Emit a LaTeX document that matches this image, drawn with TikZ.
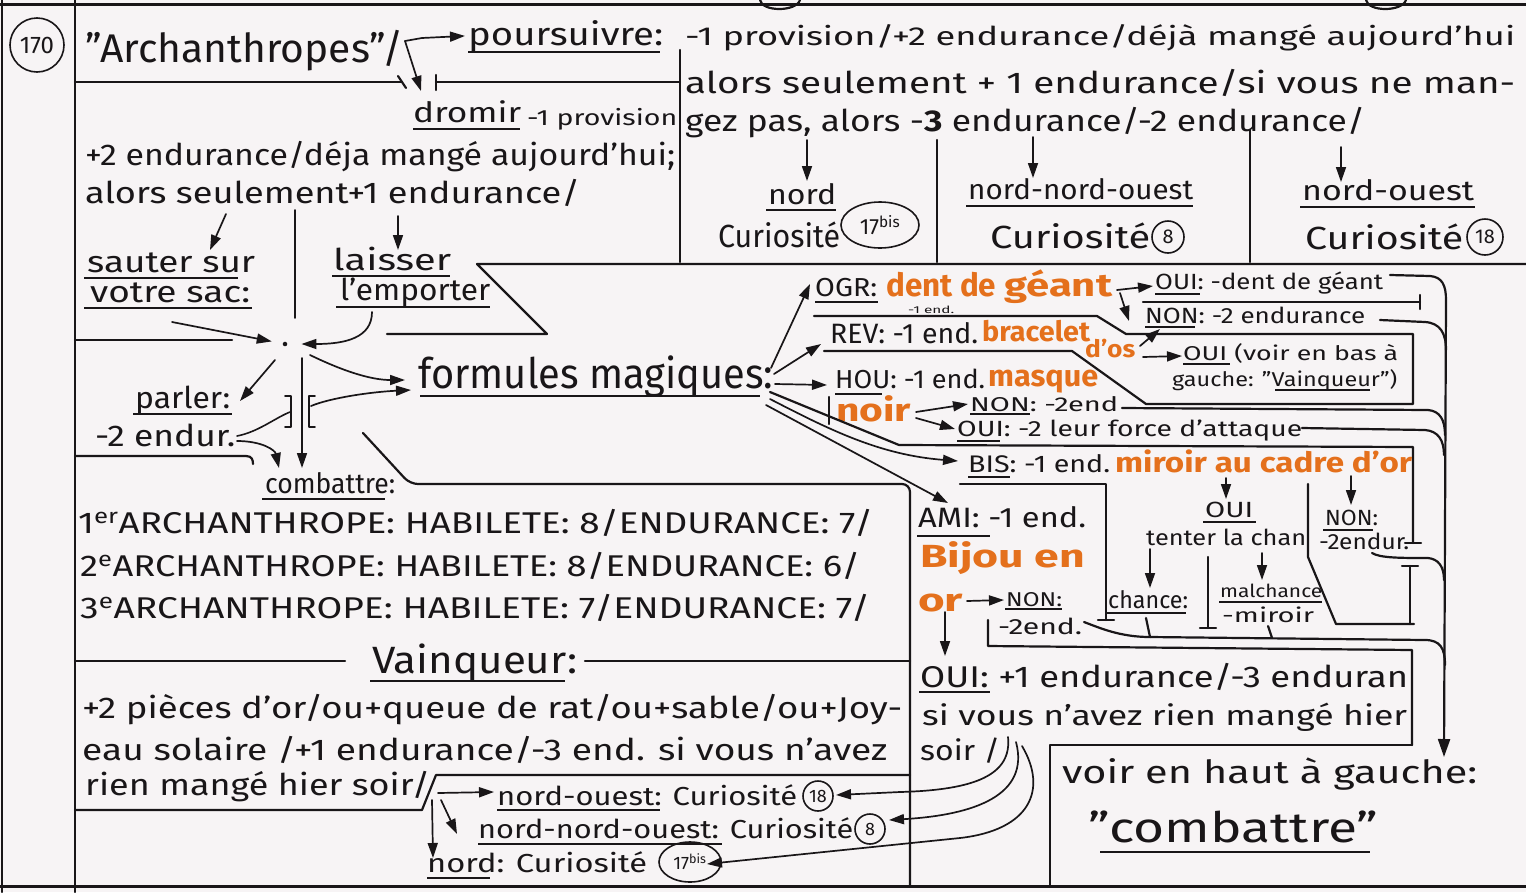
\documentclass[tikz,border=0pt]{standalone}
\usepackage{fontspec}
\setmainfont{Fira Sans}
\usepackage{graphicx}
\usetikzlibrary{arrows.meta,shapes.geometric}
\definecolor{paper}{RGB}{247,244,245}
\definecolor{ink}{RGB}{25,22,24}
\definecolor{orangeink}{RGB}{228,112,28}
% text stretched horizontally to a given width, natural height kept
\newcommand{\hw}[2]{\resizebox{#1pt}{\height}{#2}}
\newcommand{\fs}[1]{\fontsize{#1}{#1}\selectfont}
\tikzset{
  txt/.style={inner sep=0pt, anchor=base west, text=ink},
  orng/.style={inner sep=0pt, anchor=base west, text=orangeink},
  hand/.style={draw=ink, line width=2.2pt, line cap=round, line join=round},
  thin/.style={draw=ink, line width=1.6pt, line cap=round, line join=round},
  arr/.style={draw=ink, line width=1.7pt, line cap=round, -{Triangle[length=15pt,width=10pt]}},
  ul/.style={draw=ink, line width=1.8pt},
  num/.style={circle, draw=ink, line width=1.6pt, inner sep=1pt, text=ink},
  numb/.style={ellipse, draw=ink, line width=1.6pt, inner sep=0pt, text=ink},
}
\begin{document}
\begin{tikzpicture}[x=1pt,y=-1pt]
\fill[paper] (0,0) rectangle (1526,892);
\useasboundingbox (0,0) rectangle (1526,892);

% ---------- page frame ----------
\draw[hand] (2,0)--(2,892);
\draw[hand] (75,0)--(75,892);
\draw[hand, line width=3pt] (0,4)--(1526,4);
\draw[hand, line width=3pt] (0,886)--(1526,886);
\draw[hand] (760,0) .. controls (762,12) and (796,12) .. (800,0);
\draw[hand] (1366,0) .. controls (1368,12) and (1402,12) .. (1406,0);

% ---------- header ----------
\node[num, minimum size=54pt, font=\fs{24}] (n170) at (37,45) {170};
\node[txt, font=\fs{40}] (title) at (85,62) {\hw{318}{"Archanthropes"/}};
\node[txt, font=\fs{32}] (pours) at (468,45) {\hw{195}{poursuivre:}};
\draw[ul] (468,52)--(660,52);
\coordinate (split) at (405,41);
\coordinate (dromtip) at (421,91);
\draw[arr] (split) -- (422,38) -- ([xshift=-3pt]pours.west);
\draw[arr] (split) -- (dromtip);

\draw[hand] (75,82)--(402,82);
\draw[hand] (398,76)--(406,88);
\draw[hand] (436,75)--(436,90);
\draw[hand] (436,82)--(680,82);

\node[txt, font=\fs{26}] (r1) at (685,45) {\hw{830}{-1 provision/+2 endurance/déjà mangé aujourd'hui}};
\node[txt, font=\fs{30}] (r2) at (685,93) {\hw{830}{alors seulement + 1 endurance/si vous ne man-}};
\node[txt, font=\fs{30}] (r3) at (685,131) {\hw{680}{gez pas, alors -\textbf{3} endurance/-2 endurance/}};

% ---------- upper right destinations ----------
\draw[hand] (680,50)--(680,262);
\draw[hand] (937,140)--(937,262);
\draw[hand] (1250,130)--(1250,262);
\node[txt, font=\fs{28}] (nord1) at (768,204) {\hw{68}{nord}};
\draw[ul] (766,210)--(836,210);
\node[txt, font=\fs{32}] (cur1) at (718,247) {\hw{122}{Curiosité}};
\node[numb, minimum width=78pt, minimum height=46pt, font=\fs{22}] (c17a) at (880,225) {17\textsuperscript{bis}};
\node[txt, font=\fs{28}] (nno1) at (968,199) {\hw{225}{nord-nord-ouest}};
\draw[ul] (966,206)--(1193,206);
\node[txt, font=\fs{32}] (cur2) at (990,248) {\hw{160}{Curiosité}};
\node[num, minimum size=32pt, font=\fs{20}] (c8a) at (1168,237) {8};
\node[txt, font=\fs{28}] (no1) at (1302,200) {\hw{172}{nord-ouest}};
\draw[ul] (1300,207)--(1475,207);
\node[txt, font=\fs{32}] (cur3) at (1305,249) {\hw{158}{Curiosité}};
\node[num, minimum size=36pt, font=\fs{20}] (c18a) at (1485,237) {18};
\draw[arr] (807,140) -- (807,181);
\draw[arr] (1033,137) -- (1033,178);
\draw[arr] (1341,147) -- (1341,182);

% ---------- dormir / left block ----------
\node[txt, font=\fs{28}] (drom) at (413,122) {\hw{108}{dromir}};
\draw[ul] (413,129)--(520,129);
\node[txt, font=\fs{22}] (drom2) at (527,125) {\hw{150}{-1 provision}};
\node[txt, font=\fs{30}] (l1) at (85,165) {\hw{590}{+2 endurance/déja mangé aujourd'hui;}};
\node[txt, font=\fs{30}] (l2) at (85,203) {\hw{495}{alors seulement+1 endurance/}};

\node[txt, font=\fs{30}] (saut1) at (87,272) {\hw{168}{sauter sur}};
\draw[ul] (84,278)--(238,278);
\node[txt, font=\fs{30}] (saut2) at (90,302) {\hw{160}{votre sac:}};
\draw[ul] (84,308)--(252,308);
\node[txt, font=\fs{30}] (lais1) at (333,270) {\hw{118}{laisser}};
\draw[ul] (332,276)--(450,276);
\node[txt, font=\fs{30}] (lais2) at (340,300) {\hw{150}{l'emporter}};
\draw[ul] (336,307)--(490,307);
\node[txt, font=\fs{30}] (parl) at (135,408) {\hw{95}{parler:}};
\draw[ul] (133,414)--(232,414);
\node[txt, font=\fs{30}] (endur) at (95,446) {\hw{140}{-2 endur.}};
\node[txt, font=\fs{28}] (comb) at (265,493) {\hw{130}{combattre:}};
\draw[ul] (262,499)--(385,499);
\node[txt, font=\fs{42}] (form) at (418,388) {\hw{355}{formules magiques:}};
\draw[ul] (420,396)--(760,396);

\draw[hand] (75,340)--(232,340);
\draw[hand] (75,456)--(246,456) .. controls (252,456) and (253,460) .. (253,464);
\draw[hand] (387,334)--(547,334)--(477,264)--(1526,264);
\draw[hand, rounded corners=8pt] (363,433)--(410,484)--(910,484)--(910,886);

\node[circle, fill=ink, inner sep=1.6pt] (dot) at (285,344) {};
\draw[arr] (226,214) -- (210,250);
\draw[arr] (398,216) -- (398,250);
\draw[thin] (295,210) -- (295,318);
\draw[arr, shorten >=11pt] (172,322) -- (dot);
\draw[arr] (372,312) .. controls (372,338) and (345,344) .. ([xshift=14pt]dot.east);
\draw[arr] (310,355) .. controls (345,372) and (372,380) .. (405,380);
\draw[arr] (275,360) -- (240,401);
\draw[arr] (302,358) -- (302,468);
\draw[thin] (237,436) .. controls (258,432) and (275,418) .. (290,412);
\draw[thin] (285,396)--(291,396)--(291,427)--(285,427);
\draw[thin] (315,396)--(309,396)--(309,427)--(315,427);
\draw[arr] (311,406) .. controls (330,398) and (370,392) .. (411,390);
\draw[arr] (237,441) .. controls (262,441) and (275,450) .. (279,468);

% ---------- combat ----------
\node[txt, font=\fs{30}] (a1) at (78,533) {\hw{795}{1\textsuperscript{er}ARCHANTHROPE: HABILETE: 8/ENDURANCE: 7/}};
\node[txt, font=\fs{30}] (a2) at (80,576) {\hw{780}{2\textsuperscript{e}ARCHANTHROPE: HABILETE: 8/ENDURANCE: 6/}};
\node[txt, font=\fs{30}] (a3) at (80,618) {\hw{790}{3\textsuperscript{e}ARCHANTHROPE: HABILETE: 7/ENDURANCE: 7/}};

% ---------- Vainqueur ----------
\draw[hand] (75,661)--(345,661);
\draw[hand] (585,661)--(910,661);
\node[txt, font=\fs{38}] (vainq) at (372,673) {\hw{205}{Vainqueur:}};
\draw[ul] (370,681)--(565,681);
\node[txt, font=\fs{30}] (v1) at (82,718) {\hw{820}{+2 pièces d'or/ou+queue de rat/ou+sable/ou+Joy-}};
\node[txt, font=\fs{30}] (v2) at (82,760) {\hw{805}{eau solaire /+1 endurance/-3 end. si vous n'avez}};
\node[txt, font=\fs{30}] (v3) at (85,795) {\hw{345}{rien mangé hier soir/}};
\draw[hand] (75,810)--(422,810)--(436,775)--(910,775);

\node[txt, font=\fs{26}] (bno) at (497,805) {\hw{300}{nord-ouest: Curiosité}};
\draw[ul] (497,810)--(660,810);
\node[num, minimum size=30pt, font=\fs{18}] (c18b) at (818,796) {18};
\node[txt, font=\fs{26}] (bnno) at (478,838) {\hw{375}{nord-nord-ouest: Curiosité}};
\draw[ul] (478,844)--(722,844);
\node[num, minimum size=30pt, font=\fs{18}] (c8b) at (870,829) {8};
\node[txt, font=\fs{26}] (bn) at (427,872) {\hw{220}{nord: Curiosité}};
\draw[ul] (427,878)--(490,878);
\node[numb, minimum width=62pt, minimum height=40pt, font=\fs{18}] (c17b) at (690,862) {17\textsuperscript{bis}};
\draw[arr] (438,793) -- (494,792);
\draw[arr] (441,800) -- (457,834);
\draw[arr] (432,800) -- (433,858);

% ---------- spells ----------
\draw[arr] (771,368) -- (810,284);
\draw[arr] (774,374) -- (821,344);
\draw[arr] (775,384) -- (827,385);
\draw[arr] (770,399) .. controls (830,430) and (880,455) .. (958,461);
\draw[arr] (766,405) -- (948,503);

% OGR
\node[txt, font=\fs{26}] (ogr) at (815,296) {\hw{62}{OGR:}};
\draw[ul] (815,302)--(878,302);
\node[orng, font={\fs{32}\bfseries}] (dent) at (886,296) {\hw{110}{dent de}};
\node[orng, font={\fs{32}\bfseries}] (geant) at (1004,296) {\hw{108}{géant}};
\node[txt, font=\fs{10}] (ogr1) at (908,313) {\hw{46}{-1 end.}};
\node[txt, font=\fs{22}] (ogroui) at (1155,289) {\hw{228}{OUI: -dent de géant}};
\draw[ul] (1155,294)--(1200,294);
\node[txt, font=\fs{22}] (ogrnon) at (1145,323) {\hw{220}{NON: -2 endurance}};
\draw[ul] (1145,327)--(1195,327);
\draw[hand] (1143,302)--(1420,302);
\draw[hand] (1420,295)--(1420,309);
\draw[arr] (1117,290) -- (1153,286);
\draw[arr] (1120,293) -- (1129,321);

% REV
\draw[hand] (814,316)--(1097,316)--(1126,334)--(1413,334)--(1413,404)--(1146,404)--(1072,351)--(824,351);
\node[txt, font=\fs{28}] (rev) at (830,343) {\hw{148}{REV: -1 end.}};
\node[orng, font={\fs{28}\bfseries}] (brac) at (982,341) {\hw{108}{bracelet}};
\node[orng, font={\fs{24}\bfseries}] (dos) at (1085,357) {\hw{50}{d'os}};
\node[txt, font=\fs{20}] (revoui) at (1183,360) {\hw{215}{OUI (voir en bas à}};
\draw[ul] (1183,364)--(1230,364);
\node[txt, font=\fs{20}] (revoui2) at (1172,386) {\hw{225}{gauche: "Vainqueur")}};
\draw[ul] (1275,390)--(1370,390);
\draw[arr] (1140,346) -- (1160,329);
\draw[arr] (1143,357) -- (1182,356);

% HOU
\draw[hand] (829,397)--(829,424);
\node[txt, font=\fs{26}] (hou) at (835,388) {\hw{150}{HOU: -1 end.}};
\draw[ul] (835,394)--(882,394);
\node[orng, font={\fs{30}\bfseries}] (masq) at (988,386) {\hw{110}{masque}};
\node[orng, font={\fs{32}\bfseries}] (noir) at (836,421) {\hw{75}{noir}};
\node[txt, font=\fs{20}] (hounon) at (970,411) {\hw{148}{NON: -2end}};
\draw[ul] (970,414)--(1030,414);
\node[txt, font=\fs{22}] (hououi) at (957,436) {\hw{345}{OUI: -2 leur force d'attaque}};
\draw[ul] (957,441)--(1000,441);
\draw[arr] (916,412) -- (968,404);
\draw[arr] (916,418) -- (955,429);
\draw[hand] (770,392)--(899,445)--(1413,447)--(1413,543);
\draw[hand] (1405,543)--(1421,543);

% BIS
\node[txt, font=\fs{24}] (bis) at (968,472) {\hw{142}{BIS: -1 end.}};
\draw[ul] (968,477)--(1010,477);
\node[orng, font={\fs{28}\bfseries}] (miro) at (1115,472) {\hw{297}{miroir au cadre d'or}};
\node[txt, font=\fs{22}] (bisoui) at (1205,517) {\hw{48}{OUI}};
\draw[ul] (1203,522)--(1256,522);
\node[txt, font=\fs{22}] (tent) at (1146,545) {\hw{160}{tenter la chan}};
\node[txt, font=\fs{22}] (bisnon) at (1325,525) {\hw{53}{NON:}};
\draw[ul] (1323,530)--(1373,530);
\node[txt, font=\fs{22}] (bisnon2) at (1319,549) {\hw{90}{-2endur.}};
\node[txt, font=\fs{24}] (chan) at (1108,608) {\hw{80}{chance:}};
\draw[ul] (1107,613)--(1186,613);
\node[txt, font=\fs{18}] (malc) at (1220,597) {\hw{102}{malchance}};
\draw[ul] (1219,602)--(1322,602);
\node[txt, font=\fs{20}] (malc2) at (1222,622) {\hw{92}{-miroir}};
\draw[hand] (960,484)--(1106,484)--(1106,620);
\draw[hand] (1098,620)--(1114,620);
\draw[hand] (1308,484)--(1308,557)--(1336,624)--(1414,624);
\draw[hand] (1410,566)--(1410,624);
\draw[hand] (1402,566)--(1418,566);
\draw[hand] (1208,557)--(1208,628);
\draw[hand] (1200,628)--(1216,628);
\draw[arr] (1226,478) -- (1226,499);
\draw[arr] (1351,476) -- (1351,505);
\draw[arr] (1150,549) -- (1150,588);
\draw[arr] (1262,553) -- (1262,580);
\draw[hand] (1146,618)--(1150,637);
\draw[hand] (1268,626)--(1272,638);

% AMI
\node[txt, font=\fs{28}] (ami) at (918,527) {\hw{168}{AMI: -1 end.}};
\draw[ul] (917,536)--(990,536);
\node[orng, font={\fs{32}\bfseries}] (bij) at (920,567) {\hw{165}{Bijou en}};
\node[orng, font={\fs{32}\bfseries}] (or) at (918,611) {\hw{45}{or}};
\node[txt, font=\fs{20}] (aminon) at (1006,606) {\hw{56}{NON:}};
\draw[ul] (1005,609)--(1062,609);
\node[txt, font=\fs{22}] (aminon2) at (998,634) {\hw{84}{-2end.}};
\draw[arr] (967,601) -- (1004,600);
\draw[arr] (945,612) -- (945,656);
\draw[hand] (988,620)--(988,646)--(1412,650)--(1412,745);
\node[txt, font=\fs{30}] (amioui) at (920,687) {\hw{488}{OUI: +1 endurance/-3 enduran}};
\draw[ul] (919,692)--(990,692);
\node[txt, font=\fs{28}] (amioui2) at (922,725) {\hw{485}{si vous n'avez rien mangé hier}};
\node[txt, font=\fs{28}] (amioui3) at (920,760) {\hw{80}{soir /}};
\draw[arr] (1008,737) .. controls (1012,775) and (975,790) .. (900,792) -- (836,795);
\draw[arr] (1016,742) .. controls (1030,795) and (975,815) .. (889,820);
\draw[arr] (1022,746) .. controls (1048,790) and (1030,830) .. (960,838) -- (707,864);

% collector on the right
\draw[hand, -{Triangle[length=18pt,width=12pt]}] (1390,275) -- (1430,276) .. controls (1442,277) and (1446,285) .. (1446,300) -- (1444,757);
\draw[hand] (1380,320) -- (1425,322) .. controls (1440,323) and (1446,333) .. (1446,350);
\draw[hand] (1122,408) -- (1428,410) .. controls (1440,411) and (1445,420) .. (1445,435);
\draw[hand] (1302,428) -- (1425,430) .. controls (1438,431) and (1444,440) .. (1444,455);
\draw[hand] (1372,553) .. controls (1380,558) and (1400,558) .. (1428,558) .. controls (1438,559) and (1444,566) .. (1444,580);
\draw[hand] (1084,622) .. controls (1100,628) and (1120,637) .. (1150,637) -- (1425,640) .. controls (1440,640) and (1445,648) .. (1445,665);

% back to combat
\draw[hand] (1050,886)--(1050,745)--(1412,745);
\node[txt, font=\fs{32}] (voir) at (1062,783) {\hw{415}{voir en haut à gauche:}};
\node[txt, font=\fs{42}] (comb2) at (1088,842) {\hw{290}{"combattre"}};
\draw[ul] (1100,852)--(1370,852);
\end{tikzpicture}
\end{document}
